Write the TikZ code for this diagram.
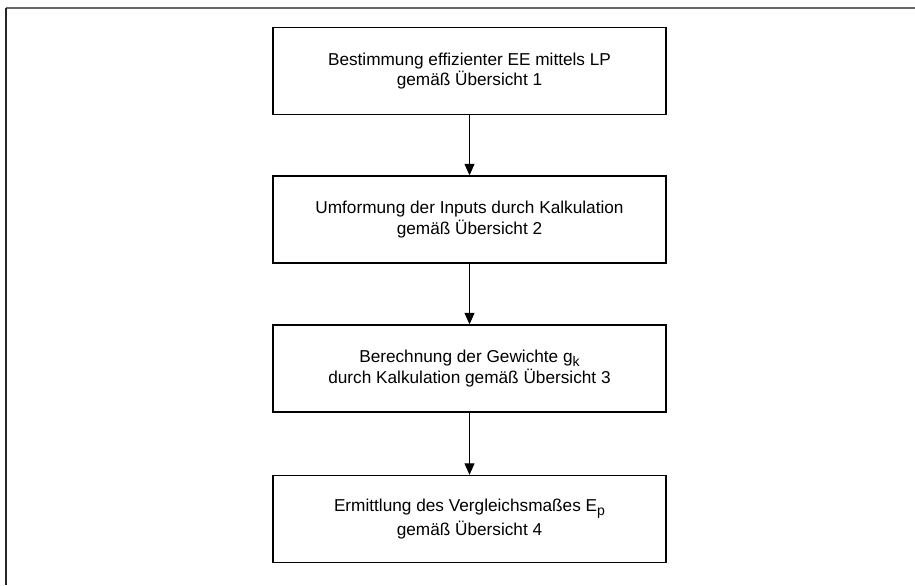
\documentclass[tikz,border=0pt]{standalone}
\usepackage{fontspec}
\setmainfont{Liberation Sans}
\usetikzlibrary{arrows.meta}

\tikzset{
    stepbox/.style={draw, line width=0.8pt, minimum width=7.86cm, minimum height=1.74cm,
        align=center, font=\fontsize{9.8}{11.6}\selectfont, inner sep=0pt},
    flow/.style={line width=0.6pt, -{Triangle[length=0.23cm, width=0.2cm]}}
}
\newcommand{\sub}[1]{\raisebox{-0.45ex}{\fontsize{8}{8}\selectfont #1}}

\begin{document}
\begin{tikzpicture}[x=0.02cm, y=-0.02cm]
    \useasboundingbox (0, 0) rectangle (915, 585);
    % Frame:
    \draw[line width=1pt, black!60] (6, 8) -- (915, 8);
    \draw[line width=1pt, black!85] (6, 8) -- (6, 585);
    % Boxes:
    \node[stepbox] (B1) at (469.5, 71) {Bestimmung effizienter EE mittels LP\\gemäß Übersicht 1};
    \node[stepbox] (B2) at (469.5, 219.5) {Umformung der Inputs durch Kalkulation\\gemäß Übersicht 2};
    \node[stepbox] (B3) at (469.5, 368.5) {Berechnung der Gewichte g\sub{k}\\durch Kalkulation gemäß Übersicht 3};
    \node[stepbox] (B4) at (469.5, 519) {Ermittlung des Vergleichsmaßes E\sub{p}\\gemäß Übersicht 4};
    % Arrows:
    \draw[flow] (B1) -- (B2);
    \draw[flow] (B2) -- (B3);
    \draw[flow] (B3) -- (B4);
\end{tikzpicture}
\end{document}
